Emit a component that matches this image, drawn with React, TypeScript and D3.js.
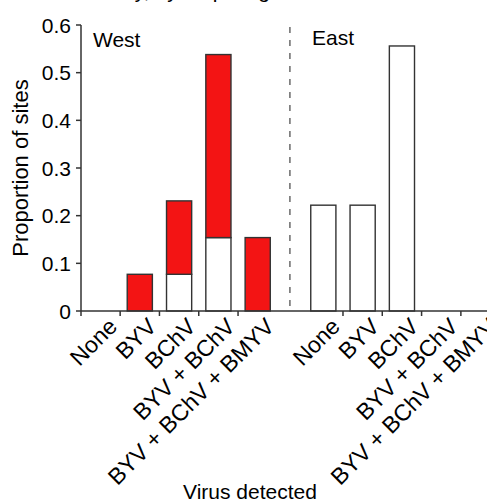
import React from "react";
import { scaleLinear } from "d3";

// proportion of sites per virus combination
const categories = ["None", "BYV", "BChV", "BYV + BChV", "BYV + BChV + BMYV"];
const westWhite = [0, 0, 0.077, 0.154, 0];
const westRed = [0, 0.077, 0.154, 0.384, 0.154];
const eastWhite = [0.222, 0.222, 0.556, 0, 0];
const eastRed = [0, 0, 0, 0, 0];
const yTicks = [0, 0.1, 0.2, 0.3, 0.4, 0.5, 0.6];

const FONT = "'Liberation Sans', Arial, sans-serif";
const RED = "#f31414";
const EAST_OFFSET = 5.67;
const DIVIDER = 4.82;

export default function App() {
  const width = 487;
  const height = 504;
  const axisX = 81;

  const x = scaleLinear().domain([0, 1]).range([100.5, 139.8]);
  const y = scaleLinear().domain([0, 0.6]).range([311, 25]);
  const barW = x(0.64) - x(0);

  const groups = [
    { name: "West", offset: 0, white: westWhite, red: westRed },
    { name: "East", offset: EAST_OFFSET, white: eastWhite, red: eastRed },
  ];

  return (
    <svg
      width={width}
      height={height}
      style={{ position: "absolute", left: 0, top: 0, fontFamily: FONT }}
    >
      <text x={80} y={-2} fontSize="21" fill="#000">
        Survey, by crop stage
      </text>

      {/* bars */}
      {groups.map((g) =>
        categories.map((c, i) => {
          const cx = x(i + g.offset);
          const w = g.white[i];
          const r = g.red[i];
          if (w + r <= 0) return null;
          return (
            <g key={g.name + c}>
              {w > 0 && (
                <rect
                  x={cx - barW / 2}
                  y={y(w)}
                  width={barW}
                  height={y(0) - y(w)}
                  fill="#fff"
                  stroke="#333"
                  strokeWidth={1.4}
                />
              )}
              {r > 0 && (
                <rect
                  x={cx - barW / 2}
                  y={y(w + r)}
                  width={barW}
                  height={y(w) - y(w + r)}
                  fill={RED}
                  stroke="#333"
                  strokeWidth={1.4}
                />
              )}
            </g>
          );
        })
      )}

      {/* divider */}
      <line
        x1={x(DIVIDER)}
        x2={x(DIVIDER)}
        y1={27}
        y2={y(0)}
        stroke="#444"
        strokeWidth={1.2}
        strokeDasharray="6,7"
      />

      {/* y axis */}
      <line x1={axisX} x2={axisX} y1={y(0.6)} y2={y(0)} stroke="#333" strokeWidth={1.5} />
      {yTicks.map((t) => (
        <g key={t}>
          <line x1={axisX - 5} x2={axisX} y1={y(t)} y2={y(t)} stroke="#333" strokeWidth={1.5} />
          <text
            x={axisX - 10}
            y={y(t)}
            dy="0.36em"
            textAnchor="end"
            fontSize="21"
            fill="#000"
          >
            {t === 0 ? "0" : t.toFixed(1)}
          </text>
        </g>
      ))}

      {/* x axis */}
      <line x1={axisX} x2={width} y1={y(0)} y2={y(0)} stroke="#333" strokeWidth={1.5} />
      <line x1={axisX} x2={axisX} y1={y(0)} y2={y(0) + 5} stroke="#333" strokeWidth={1.5} />
      {groups.map((g) =>
        categories.slice(1).map((c, i) => (
          <line
            key={g.name + "t" + c}
            x1={x(i + 0.5 + g.offset)}
            x2={x(i + 0.5 + g.offset)}
            y1={y(0)}
            y2={y(0) + 5}
            stroke="#333"
            strokeWidth={1.5}
          />
        ))
      )}

      {groups.map((g) =>
        categories.map((c, i) => (
          <text
            key={g.name + "l" + c}
            transform={`translate(${x(i + g.offset) + 18},${y(0) + 17}) rotate(-45)`}
            textAnchor="end"
            fontSize="23"
            fill="#000"
          >
            {c}
          </text>
        ))
      )}

      {/* group names */}
      <text x={93} y={47} fontSize="21" fill="#000">West</text>
      <text x={312} y={45} fontSize="21" fill="#000">East</text>

      {/* axis titles */}
      <text
        transform={`translate(28,${(y(0) + y(0.6)) / 2}) rotate(-90)`}
        textAnchor="middle"
        fontSize="22"
        fill="#000"
      >
        Proportion of sites
      </text>
      <text x={250} y={499} textAnchor="middle" fontSize="21" fill="#000">
        Virus detected
      </text>
    </svg>
  );
}
